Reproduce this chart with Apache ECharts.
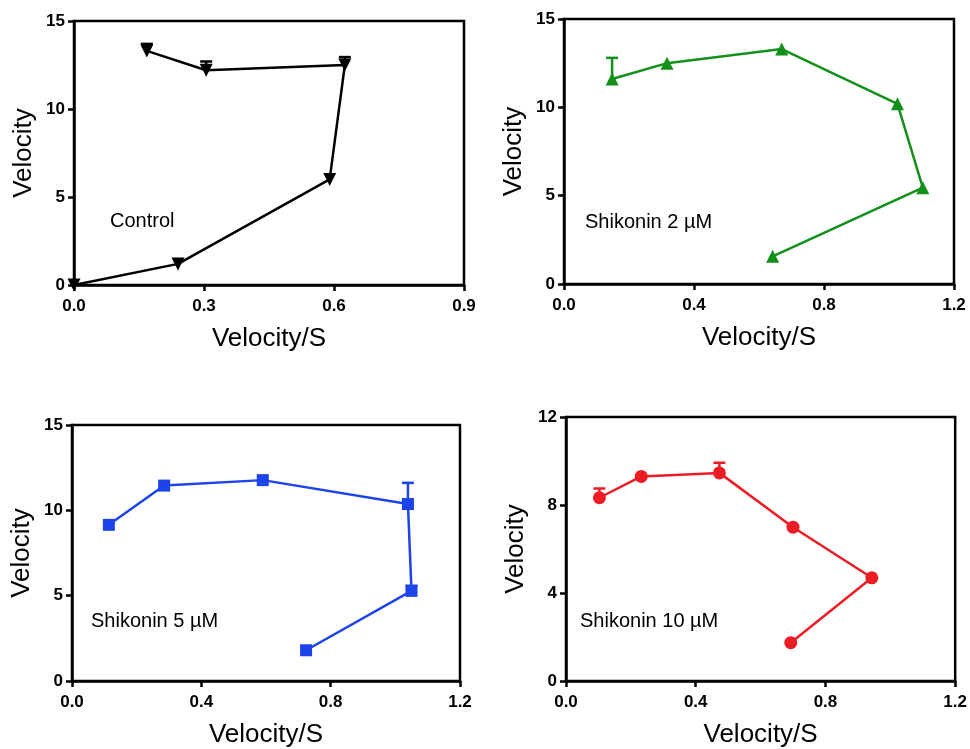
<!DOCTYPE html>
<html>
<head>
<meta charset="utf-8">
<script src="https://cdn.jsdelivr.net/npm/echarts@6/dist/echarts.min.js"></script>
<style>html,body{margin:0;padding:0;background:#fff;}#chart{width:970px;height:749px;}</style>
</head>
<body>
<div id="chart"></div>
<script>
// ---- Data ----
var panelLabels = ['Control', 'Shikonin 2 µM', 'Shikonin 5 µM', 'Shikonin 10 µM'];
var xAxisTitle = 'Velocity/S';
var yAxisTitle = 'Velocity';

var controlX = [0.0, 0.24, 0.59, 0.625, 0.305, 0.168];
var controlY = [0.0, 1.2, 6.0, 12.5, 12.2, 13.3];
var controlErr = [0, 0, 0, 0.45, 0.5, 0.4];

var shik2X = [0.148, 0.317, 0.670, 1.026, 1.104, 0.642];
var shik2Y = [11.6, 12.5, 13.3, 10.2, 5.45, 1.57];
var shik2Err = [1.2, 0, 0, 0, 0, 0];

var shik5X = [0.114, 0.285, 0.590, 1.039, 1.050, 0.724];
var shik5Y = [9.15, 11.45, 11.77, 10.37, 5.28, 1.8];
var shik5Err = [0, 0, 0, 1.24, 0.3, 0];

var shik10X = [0.103, 0.232, 0.473, 0.700, 0.943, 0.693];
var shik10Y = [8.33, 9.30, 9.46, 6.99, 4.69, 1.74];
var shik10Err = [0.42, 0, 0.46, 0, 0, 0];

var xMax = [0.9, 1.2, 1.2, 1.2];
var xStep = [0.3, 0.4, 0.4, 0.4];
var yMax = [15, 15, 15, 12];
var yStep = [5, 5, 5, 4];

// ---- Build ----
var seriesX = [controlX, shik2X, shik5X, shik10X];
var seriesY = [controlY, shik2Y, shik5Y, shik10Y];
var seriesErr = [controlErr, shik2Err, shik5Err, shik10Err];
var colors = ['#000000', '#12901a', '#1c44ea', '#ec1c24'];
var symbols = ['triangle', 'triangle', 'rect', 'circle'];
var symbolRot = [180, 0, 0, 0];
var symbolSizes = [13, 13, 12, 13];

var grids = [
  {left: 74, top: 21, width: 390, height: 264},
  {left: 564, top: 19, width: 390, height: 265},
  {left: 72, top: 425, width: 388, height: 258},
  {left: 566, top: 417, width: 391, height: 265}
];
var labelPos = [[110, 222], [585, 223], [91, 622], [580, 622]];

var FONT = 'Arial, "Liberation Sans", sans-serif';

var option = {
  backgroundColor: '#ffffff',
  animation: false,
  grid: grids.map(function (g) {
    return Object.assign({show: true, borderColor: '#000', borderWidth: 2.5, backgroundColor: 'transparent', containLabel: false}, g);
  }),
  xAxis: [], yAxis: [], series: [], graphic: []
};

for (var i = 0; i < 4; i++) {
  option.xAxis.push({
    type: 'value', gridIndex: i, min: 0, max: xMax[i], interval: xStep[i],
    name: xAxisTitle, nameLocation: 'middle', nameGap: 41,
    nameTextStyle: {fontFamily: FONT, fontSize: 26, color: '#000'},
    axisLine: {show: true, onZero: false, lineStyle: {color: '#000', width: 2.5}},
    axisTick: {show: true, inside: false, length: 6, lineStyle: {color: '#000', width: 2.5}},
    axisLabel: {fontFamily: FONT, fontSize: 17, fontWeight: 'bold', color: '#000', margin: 13,
      formatter: function (v) { return v.toFixed(1); }},
    splitLine: {show: false}
  });
  option.yAxis.push({
    type: 'value', gridIndex: i, min: 0, max: yMax[i], interval: yStep[i],
    name: yAxisTitle, nameLocation: 'middle', nameGap: 37,
    nameTextStyle: {fontFamily: FONT, fontSize: 26, color: '#000'},
    axisLine: {show: true, onZero: false, lineStyle: {color: '#000', width: 2.5}},
    axisTick: {show: true, inside: false, length: 6, lineStyle: {color: '#000', width: 2.5}},
    axisLabel: {fontFamily: FONT, fontSize: 17, fontWeight: 'bold', color: '#000', margin: 9},
    splitLine: {show: false}
  });

  var pts = seriesX[i].map(function (x, k) { return [x, seriesY[i][k]]; });
  option.series.push({
    type: 'line', xAxisIndex: i, yAxisIndex: i, data: pts,
    symbol: symbols[i], symbolRotate: symbolRot[i], symbolSize: symbolSizes[i],
    showAllSymbol: true,
    lineStyle: {color: colors[i], width: 2.5},
    itemStyle: {color: colors[i], borderWidth: 0},
    z: 3
  });

  var errData = [];
  seriesX[i].forEach(function (x, k) {
    if (seriesErr[i][k] > 0) errData.push([x, seriesY[i][k], seriesY[i][k] + seriesErr[i][k]]);
  });
  (function (col) {
    option.series.push({
      type: 'custom', xAxisIndex: i, yAxisIndex: i, data: errData, z: 2,
      encode: {x: 0, y: [1, 2]},
      renderItem: function (params, api) {
        var p0 = api.coord([api.value(0), api.value(1)]);
        var p1 = api.coord([api.value(0), api.value(2)]);
        var hw = 6;
        return {
          type: 'group',
          children: [
            {type: 'line', shape: {x1: p0[0], y1: p0[1], x2: p1[0], y2: p1[1]}, style: {stroke: col, lineWidth: 2.5}},
            {type: 'line', shape: {x1: p1[0] - hw, y1: p1[1], x2: p1[0] + hw, y2: p1[1]}, style: {stroke: col, lineWidth: 2.5}}
          ]
        };
      }
    });
  })(colors[i]);

  option.graphic.push({
    type: 'text', left: labelPos[i][0], top: labelPos[i][1] - 11,
    style: {text: panelLabels[i], fontFamily: FONT, fontSize: 20, fill: '#000'}
  });
}

var chart = echarts.init(document.getElementById('chart'), null, {renderer: 'canvas'});
chart.setOption(option);
</script>
</body>
</html>
